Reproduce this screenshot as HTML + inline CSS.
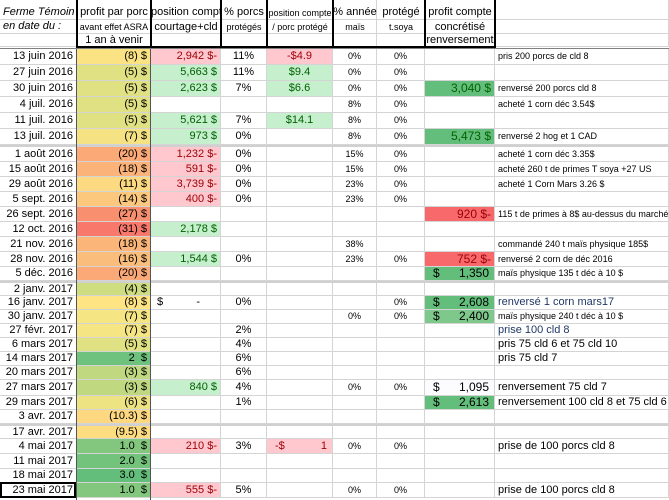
<!DOCTYPE html>
<html><head><meta charset="utf-8"><style>
body{margin:0;width:669px;height:500px;overflow:hidden;background:#fff;font-family:"Liberation Sans",Arial,sans-serif;font-size:11px;color:#000}
#sheet{position:absolute;left:0;top:0;width:669px;height:500px}
.c{position:absolute;box-sizing:border-box;border-right:1px solid #d4d4d4;border-bottom:1px solid #d4d4d4;white-space:nowrap;overflow:hidden;line-height:14px;padding:0 3px}
.r{text-align:right}.m{text-align:center}
.sp{display:flex;justify-content:space-between;padding:0 5px 0 8px}
.h{position:absolute;white-space:nowrap;overflow:hidden;text-align:center;line-height:13px}
.vl{position:absolute;background:#000;width:2px}
</style></head><body>
<div id="sheet"></div>
<script>
const dates=["13 juin 2016","27 juin 2016","30 juin 2016","4 juil. 2016","11 juil. 2016","13 juil. 2016","1 août 2016","15 août 2016","29 août 2016","5 sept. 2016","26 sept. 2016","12 oct. 2016","21 nov. 2016","28 nov. 2016","5 déc. 2016","2 janv. 2017","16 janv. 2017","30 janv. 2017","27 févr. 2017","6 mars 2017","14 mars 2017","20 mars 2017","27 mars 2017","29 mars 2017","3 avr. 2017","17 avr. 2017","4 mai 2017","11 mai 2017","18 mai 2017","23 mai 2017"];
const profit=["(8) $","(5) $","(5) $","(5) $","(5) $","(7) $","(20) $","(18) $","(11) $","(14) $","(27) $","(31) $","(18) $","(16) $","(20) $","(4) $","(8) $","(7) $","(7) $","(5) $","2  $","(3) $","(3) $","(6) $","(10.3) $","(9.5) $","1.0  $","2.0  $","3.0  $","1.0  $"];
const profitColor=["#fbe383","#dfe182","#dfe182","#dfe182","#dfe182","#f5e383","#fbaa77","#fbb379","#fdd981","#fcc87d","#f8906f","#f8796b","#fbb579","#fbbd7b","#fbaa77","#cddd80","#fee483","#f5e583","#f5e583","#dfe182","#6ec27d","#c0d980","#c0d980","#ede383","#fed881","#fedd81","#82c77d","#73c37c","#63be7b","#82c77d"];
const position=["2,942 $-","5,663 $","2,623 $","","5,621 $","973 $","1,232 $-","591 $-","3,739 $-","400 $-","","2,178 $","","1,544 $","","","$|-","","","","","","840 $","","","","210 $-","","","555 $-"];
const pctPorcs=["11%","11%","7%","","7%","0%","0%","0%","0%","0%","","","","0%","","","0%","","2%","4%","6%","6%","4%","1%","","","3%","","","5%"];
const parPorc=["-$4.9","$9.4","$6.6","","$14.1","","","","","","","","","","","","","","","","","","","","","","-$|1","","",""];
const mais=["0%","0%","0%","8%","8%","8%","15%","15%","23%","23%","","","38%","23%","","","","0%","","","","","0%","","","","0%","","","0%"];
const soya=["0%","0%","0%","0%","0%","0%","0%","0%","0%","0%","","","","0%","","","0%","0%","","","","","0%","","","","0%","","","0%"];
const realized=["","","3,040 $","","","5,473 $","","","","","920 $-","","","752 $-","$|1,350","","$|2,608","$|2,400","","","","","$|1,095","$|2,613","","","","","",""];
const notes=["pris 200 porcs de cld 8","","renversé 200 porcs cld 8","acheté 1 corn déc 3.54$","","renversé 2 hog et 1 CAD","acheté 1 corn déc 3.35$","acheté 260 t de primes T soya +27 US","acheté 1 Corn Mars 3.26 $","","115 t de primes à 8$ au-dessus du marché","","commandé 240 t maïs physique 185$","renversé 2 corn de déc 2016","maïs physique 135 t déc à 10 $","","renversé 1 corn mars17","maïs physique 240 t déc à 10 $","prise 100 cld 8","pris 75 cld 6 et 75 cld 10","pris 75 cld 7","","renversement 75 cld 7","renversement 100 cld 8 et 75  cld 6","","","prise de 100 porcs cld 8","","","prise de 100 porcs cld 8"];
const rowTops=[49,65,81,97,113,129,147,162,177,192,207,222,237,252,267,283,296,310,324,338,352,366,380,396,410,426,439,454,469,483];
const rowBottoms=[65,81,97,113,129,145,162,177,192,207,222,237,252,267,281,296,310,324,338,352,366,380,396,410,424,439,454,469,483,498];
const colX=[0,77,151,221,267,333,377,425,495,669];
const S=document.getElementById('sheet');
function cell(x,y,w,h,txt,cls,bg,col){const d=document.createElement('div');d.className='c '+(cls||'');d.style.cssText=`left:${x}px;top:${y}px;width:${w}px;height:${h}px;line-height:${h-1}px;`+(bg?`background:${bg};`:'')+(col?`color:${col};`:'');
 if(txt.indexOf('|')>=0){d.className='c sp';const [a,b]=txt.split('|');const s1=document.createElement('span');s1.textContent=a;const s2=document.createElement('span');s2.textContent=b;d.appendChild(s1);d.appendChild(s2);}else d.textContent=txt;
 S.appendChild(d);return d;}
function hdr(x,y,w,t,fs,it){const d=document.createElement('div');d.className='h';d.style.cssText=`left:${x}px;top:${y}px;width:${w}px;font-size:${fs}px;`+(it?'font-style:italic;text-align:left;padding-left:3px;':'');d.textContent=t;S.appendChild(d);return d;}
for(let i=0;i<9;i++){for(const [y,h] of [[0,20],[20,14],[34,13]]){const d=cell(colX[i],y,colX[i+1]-colX[i],h,'');}}
const H=[[0,6,"Ferme Témoin",11,1],[0,20,"en date du :",11,1],[77,6,"profit par porc",11],[77,21,"avant effet ASRA",9],[77,34,"1 an à venir",11],[151,6,"position  compte",11],[151,21,"courtage+cld",11],[221,6,"% porcs",11],[221,21,"protégés",9],[267,7,"position compte",9],[267,21,"/ porc protégé",9],[333,6,"% année",11],[333,21,"maïs",9],[377,6,"protégé",11],[377,21,"t.soya",9],[425,6,"profit  compte",11],[425,21,"concrétisé",11],[425,34,"renversement",11]];
for(const h of H){const d=hdr(h[0],h[1],colX.find(v=>v>h[0])-h[0],h[2],h[3],h[4]);}
for(let r=0;r<dates.length;r++){
 const y=rowTops[r],h=rowBottoms[r]-y;
 let d;
 d=cell(0,y,77,h,dates[r],'r');
 d=cell(77,y,74,h,profit[r],'r',profitColor[r]);d.style.whiteSpace='pre';
 const p=position[r];const neg=p.endsWith('-')&&p.indexOf('|')<0;const plain=p.indexOf('|')>=0;
 d=cell(151,y,70,h,p,'r',p&&!plain?(neg?'#ffc7ce':'#c6efce'):null,plain?'#000':(neg?'#9c0006':'#006100'));if(plain)d.style.padding='0 20px 0 6px';
 d=cell(221,y,46,h,pctPorcs[r],'m');
 const q=parPorc[r];const qn=q.startsWith('-');
 d=cell(267,y,66,h,q,'m',q?(qn?'#ffc7ce':'#c6efce'):null,qn?'#9c0006':'#006100');
 d=cell(333,y,44,h,mais[r],'m');d.style.fontSize='9px';
 d=cell(377,y,48,h,soya[r],'m');d.style.fontSize='9px';
 const v=realized[r];const vn=v.endsWith('-');let bg=null,col='#000';
 if(v){if(vn){bg='#f8696b';col='#9c0006';}else{bg='#63be7b';col=v.startsWith('$')?'#000':'#006100';}}
 if(r===17)bg='#7dc88a';if(r===22)bg='#fcfcff';
 d=cell(425,y,70,h,v,'r',bg,col);d.style.fontSize='12px';
 const big=r>=16&&r!==17;
 d=cell(495,y,174,h,notes[r],'');d.style.fontSize=big?'11px':'9px';if(r===16||r===18)d.style.color='#1f3864';
}
for(const y of [145,281,424]){const d=document.createElement('div');d.style.cssText=`position:absolute;left:0;top:${y}px;width:669px;height:2px;background:#d0d0d0`;S.appendChild(d);}
for(const x of [76,150,220,266,332,424,494]){const d=document.createElement('div');d.className='vl';d.style.cssText+=`left:${x}px;top:0;height:47px`;S.appendChild(d);}
let b=document.createElement('div');b.style.cssText='position:absolute;left:76px;top:46px;width:420px;height:2px;background:#000';S.appendChild(b);
b=document.createElement('div');b.style.cssText='position:absolute;left:0;top:48px;width:669px;height:1px;background:#808080';S.appendChild(b);
for(const x of [76,150]){const d=document.createElement('div');d.style.cssText=`position:absolute;left:${x}px;top:49px;width:1px;height:451px;background:#555`;S.appendChild(d);}
b=document.createElement('div');b.style.cssText='position:absolute;left:0;top:482px;width:76px;height:16px;box-sizing:border-box;border:2px solid #000';S.appendChild(b);
</script>
</body></html>
